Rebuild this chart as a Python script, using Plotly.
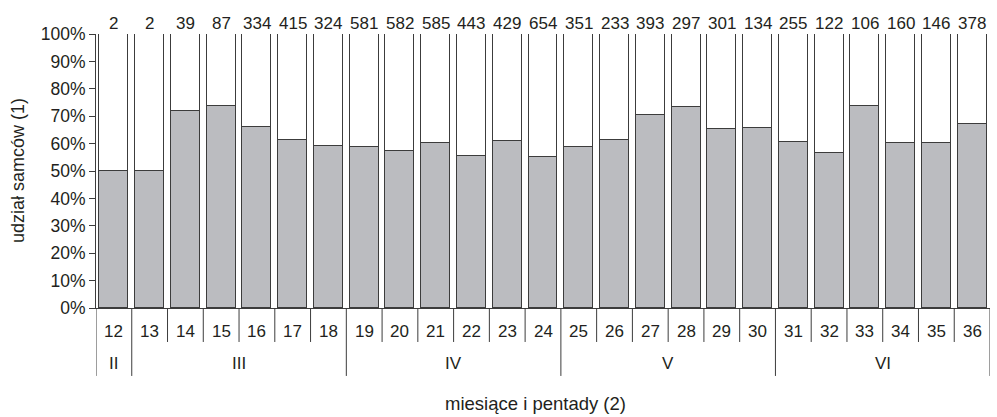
import plotly.graph_objects as go

# Pentads (5-day periods) and the month each belongs to
pentads = [12, 13, 14, 15, 16, 17, 18, 19, 20, 21, 22, 23, 24,
           25, 26, 27, 28, 29, 30, 31, 32, 33, 34, 35, 36]
sample_size = [2, 2, 39, 87, 334, 415, 324, 581, 582, 585, 443, 429, 654,
               351, 233, 393, 297, 301, 134, 255, 122, 106, 160, 146, 378]
male_share = [50.0, 50.0, 71.8, 73.6, 65.9, 61.3, 59.0, 58.9, 57.3, 60.1, 55.4, 61.1, 55.1,
              58.8, 61.4, 70.6, 73.5, 65.2, 65.7, 60.5, 56.7, 73.6, 60.1, 60.3, 67.3]
months = ["II", "III", "IV", "V", "VI"]
month_first_pentad = [12, 13, 19, 25, 31]
month_last_pentad = [12, 18, 24, 30, 36]

FONT = "Liberation Sans, Arial, Helvetica, sans-serif"
INK = "#231f20"
EDGE = "#3c3c3c"

idx = list(range(len(pentads)))
female_share = [100 - v for v in male_share]

fig = go.Figure()
fig.add_trace(go.Bar(x=idx, y=male_share, width=0.81,
                     marker=dict(color="#bbbcc0", line=dict(color=EDGE, width=1))))
fig.add_trace(go.Bar(x=idx, y=female_share, width=0.81,
                     marker=dict(color="white", line=dict(color=EDGE, width=1))))

annotations = []
shapes = []

# sample sizes above bars
for i, n in zip(idx, sample_size):
    annotations.append(dict(x=i, y=1, xref="x", yref="paper", text=str(n),
                            showarrow=False, yanchor="bottom", yshift=-1,
                            font=dict(size=17, color=INK, family=FONT)))

# pentad numbers under the axis
for i, p in zip(idx, pentads):
    annotations.append(dict(x=i, y=-0.084, xref="x", yref="paper", text=str(p),
                            showarrow=False, yanchor="middle",
                            font=dict(size=17, color=INK, family=FONT)))

# month labels centred over their pentads
for m, a, b in zip(months, month_first_pentad, month_last_pentad):
    ia, ib = pentads.index(a), pentads.index(b)
    annotations.append(dict(x=(ia + ib) / 2, y=-0.204, xref="x", yref="paper", text=m,
                            showarrow=False, yanchor="middle",
                            font=dict(size=17, color=INK, family=FONT)))

# separators: long at month boundaries, short between pentads
month_bounds = set(pentads.index(a) - 0.5 for a in month_first_pentad)
month_bounds.add(len(pentads) - 0.5)
for k in range(len(pentads) + 1):
    xb = k - 0.5
    y1 = -0.248 if xb in month_bounds else -0.124
    shapes.append(dict(type="line", xref="x", yref="paper", x0=xb, x1=xb, y0=0, y1=y1,
                       line=dict(color=EDGE, width=1)))

annotations.append(dict(x=0.492, y=-0.347, xref="paper", yref="paper",
                        xanchor="center", yanchor="middle",
                        text="miesiące i pentady (2)", showarrow=False,
                        font=dict(size=18.5, color=INK, family=FONT)))
annotations.append(dict(x=-0.0872, y=0.5, xref="paper", yref="paper",
                        xanchor="center", yanchor="middle",
                        text="udział samców (1)", showarrow=False, textangle=-90,
                        font=dict(size=18, color=INK, family=FONT)))

fig.update_layout(
    width=997, height=417,
    margin=dict(l=96, r=7, t=34, b=109),
    barmode="stack", bargap=0,
    showlegend=False,
    plot_bgcolor="white", paper_bgcolor="white",
    font=dict(family=FONT, size=17, color=INK),
    annotations=annotations, shapes=shapes,
)
fig.update_xaxes(range=[-0.5, len(pentads) - 0.5], showticklabels=False, ticks="",
                 showgrid=False, zeroline=False, showline=True, linecolor=EDGE,
                 linewidth=1)
fig.update_yaxes(range=[0, 100], tickvals=list(range(0, 101, 10)),
                 ticktext=[f"{v}%" for v in range(0, 101, 10)],
                 ticks="outside", ticklen=6, tickcolor=EDGE, showline=True,
                 linecolor=EDGE, linewidth=1, showgrid=False, zeroline=False,
                 tickfont=dict(size=17.5, color=INK, family=FONT))

fig.write_html("out.html")
